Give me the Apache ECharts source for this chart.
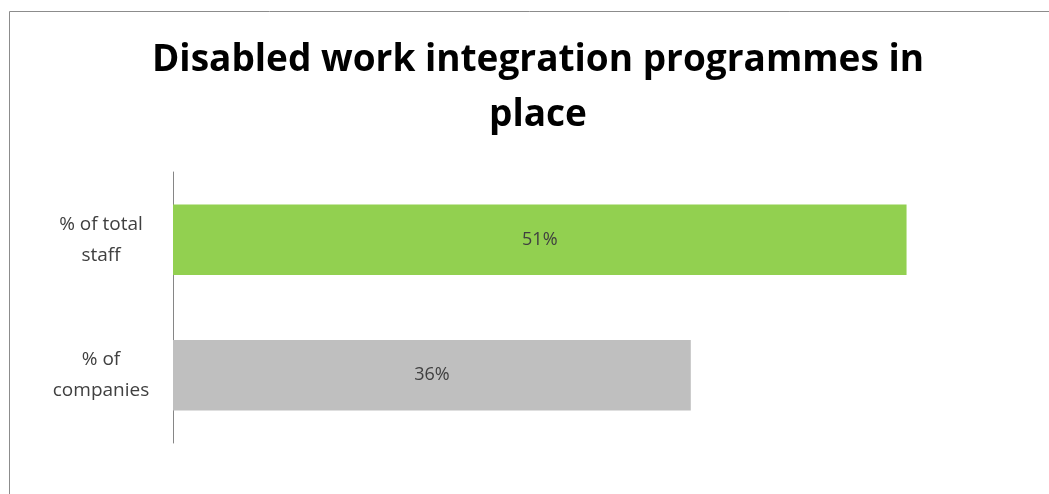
<!DOCTYPE html>
<html>
<head>
<meta charset="utf-8">
<script src="https://cdn.jsdelivr.net/npm/echarts@6/dist/echarts.min.js"></script>
<style>
  html, body { margin: 0; padding: 0; background: #ffffff; }
  #chart { width: 1049px; height: 494px; }
</style>
</head>
<body>
<div id="chart"></div>
<script>
// Chart data
const categories = ['% of\ncompanies', '% of total\nstaff'];
const values = [0.36, 0.51];
const barColors = ['#BFBFBF', '#92D050'];
const titleText = 'Disabled work integration programmes in\nplace';

const chart = echarts.init(document.getElementById('chart'));

chart.setOption({
  animation: false,
  backgroundColor: '#ffffff',
  title: {
    text: titleText,
    left: 533,
    top: 28,
    textAlign: 'center',
    textStyle: {
      fontFamily: 'Open Sans',
      fontWeight: 'bold',
      fontSize: 37,
      lineHeight: 55,
      color: '#000000'
    }
  },
  graphic: [{
    type: 'rect',
    shape: { x: 9.5, y: 11.5, width: 1100, height: 600 },
    style: { fill: 'none', stroke: '#8c8c8c', lineWidth: 1 },
    silent: true
  }],
  grid: { left: 173, right: 13, top: 172, bottom: 51 },
  xAxis: {
    type: 'value',
    min: 0,
    max: 0.6,
    show: false
  },
  yAxis: {
    type: 'category',
    data: categories,
    axisLine: { show: true, lineStyle: { color: '#868686', width: 1 } },
    axisTick: { show: false },
    axisLabel: {
      align: 'center',
      margin: 72,
      fontFamily: 'Open Sans',
      fontSize: 19,
      lineHeight: 31,
      color: '#404040'
    }
  },
  series: [{
    type: 'bar',
    barWidth: '52%',
    data: values.map((v, i) => ({ value: v, itemStyle: { color: barColors[i] } })),
    label: {
      show: true,
      position: 'inside',
      fontFamily: 'Open Sans',
      fontSize: 18,
      color: '#404040',
      formatter: p => Math.round(p.value * 100) + '%'
    }
  }]
});
</script>
</body>
</html>
